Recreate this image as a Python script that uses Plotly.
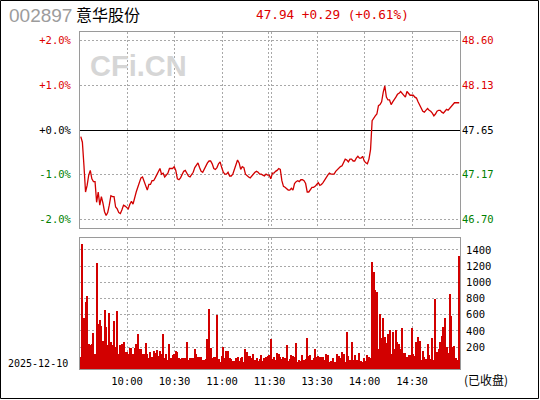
import plotly.graph_objects as go

# ---------------- data ----------------
CODE = "002897"
NAME = "意华股份"
DATE = "2025-12-10"
STATUS = "(已收盘)"
PREV_CLOSE = 47.65
LAST = 47.94
CHANGE = 0.29
CHANGE_PCT = 0.61

TIME_LABELS = ["10:00", "10:30", "11:00", "11:30", "13:30", "14:00", "14:30"]
TIME_MINUTES = [30, 60, 90, 120, 150, 180, 210]
PCT_TICKS = [2, 1, 0, -1, -2]
VOL_TICKS = [200, 400, 600, 800, 1000, 1200, 1400]

PRICE = [
    47.58, 47.52, 47.27, 46.99, 47.06, 47.17, 47.22, 47.13, 47.10, 47.10,
    46.88, 46.99, 46.85, 46.94, 46.87, 46.78, 46.74, 46.77, 46.85, 46.95,
    46.94, 46.94, 46.83, 46.81, 46.77, 46.76, 46.80, 46.85, 46.84, 46.82,
    46.81, 46.86, 46.89, 46.86, 46.94, 46.99, 47.04, 47.10, 47.14, 47.15,
    47.10, 47.06, 47.01, 47.07, 47.07, 47.11, 47.11, 47.14, 47.18, 47.22,
    47.24, 47.18, 47.19, 47.15, 47.17, 47.19, 47.24, 47.24, 47.24, 47.26,
    47.22, 47.13, 47.12, 47.14, 47.18, 47.21, 47.22, 47.18, 47.16, 47.15,
    47.17, 47.20, 47.25, 47.28, 47.30, 47.25, 47.21, 47.20, 47.24, 47.27,
    47.30, 47.32, 47.32, 47.29, 47.24, 47.23, 47.25, 47.29, 47.31, 47.25,
    47.20, 47.18, 47.18, 47.20, 47.16, 47.16, 47.18, 47.23, 47.27, 47.33,
    47.30, 47.23, 47.26, 47.25, 47.18, 47.16, 47.15, 47.14, 47.16, 47.19,
    47.20, 47.21, 47.20, 47.18, 47.18, 47.17, 47.16, 47.18, 47.17, 47.17,
    47.13, 47.19, 47.19, 47.21, 47.22, 47.24, 47.23, 47.11, 47.05, 47.04,
    47.02, 47.01, 47.01, 47.03, 47.01, 47.08, 47.10, 47.11, 47.10, 47.12,
    47.12, 47.11, 47.08, 46.99, 46.99, 47.02, 47.04, 47.04, 47.05, 47.07,
    47.09, 47.06, 47.07, 47.09, 47.12, 47.15, 47.17, 47.19, 47.18, 47.18,
    47.18, 47.21, 47.23, 47.24, 47.26, 47.27, 47.30, 47.34, 47.33, 47.31,
    47.34, 47.34, 47.32, 47.32, 47.35, 47.37, 47.35, 47.35, 47.37, 47.32,
    47.30, 47.29, 47.34, 47.44, 47.75, 47.78, 47.80, 47.82, 47.91, 47.92,
    47.95, 48.05, 48.12, 48.00, 47.97, 47.97, 47.92, 47.95, 47.97, 48.00,
    48.03, 48.04, 48.06, 48.04, 48.01, 48.00, 48.06, 48.04, 48.02, 48.02,
    48.02, 48.00, 47.99, 47.95, 47.92, 47.88, 47.85, 47.84, 47.86, 47.88,
    47.86, 47.85, 47.83, 47.80, 47.82, 47.85, 47.86, 47.86, 47.84, 47.83,
    47.85, 47.87, 47.86, 47.88, 47.90, 47.93, 47.94, 47.94, 47.94, 47.94,
]

VOLUME = [
    80, 1473, 561, 758, 828, 240, 220, 232, 372, 109,
    1239, 487, 536, 458, 277, 660, 450, 220, 619, 265,
    220, 520, 204, 647, 109, 220, 240, 265, 138, 138,
    109, 191, 183, 117, 191, 232, 356, 171, 179, 109,
    117, 249, 109, 68, 142, 80, 150, 130, 167, 88,
    150, 110, 364, 68, 109, 43, 240, 60, 101, 109,
    150, 142, 68, 47, 68, 60, 68, 265, 43, 68,
    68, 68, 179, 109, 80, 80, 80, 43, 43, 51,
    302, 672, 191, 68, 80, 80, 598, 47, 20, 93,
    204, 68, 154, 154, 68, 47, 31, 31, 60, 80,
    31, 68, 80, 10, 179, 142, 93, 93, 68, 117,
    43, 68, 31, 56, 105, 31, 68, 80, 93, 105,
    302, 56, 80, 43, 130, 117, 80, 56, 80, 60,
    228, 31, 56, 105, 93, 80, 253, 20, 43, 31,
    105, 43, 56, 314, 93, 105, 43, 68, 179, 80,
    93, 80, 80, 80, 43, 117, 105, 10, 31, 68,
    20, 15, 117, 93, 68, 142, 117, 20, 388, 93,
    40, 265, 40, 105, 43, 43, 130, 31, 20, 68,
    31, 105, 80, 60, 1252, 1128, 906, 882, 179, 610,
    314, 561, 327, 253, 364, 413, 117, 388, 179, 413,
    265, 240, 179, 438, 130, 130, 80, 105, 105, 438,
    117, 93, 265, 327, 278, 43, 154, 80, 56, 240,
    105, 56, 314, 43, 795, 142, 179, 265, 339, 450,
    561, 200, 120, 857, 586, 204, 216, 60, 40, 1326,
]

# ---------------- styles ----------------
W, H = 540, 400
ML, MR, MT, MB = 80, 80, 32, 31
PW, PH = W - ML - MR, H - MT - MB
RED = "#dd0000"
GREEN = "#008000"
LINE_RED = "#d20000"
GRID = "#a8a8a8"
FRAME = "#9a9a9a"
DASH = "2px,2px"
MONO = "DejaVu Sans Mono"
CJK = "Noto Sans CJK SC"
PCT_SPAN = 2.19
VOL_RANGE = [-72, 1548]
X_SHIFT = -0.25


def px_x(p):
    return (p - ML) / PW


def px_y(p):
    return (H - MB - p) / PH


x = list(range(len(PRICE)))
pct = [(p / PREV_CLOSE - 1) * 100 for p in PRICE]


def tick_color(v):
    return RED if v > 0 else (GREEN if v < 0 else "black")


pct_text = [f'<span style="color:{tick_color(v)}">{v:+.1f}%</span>' for v in PCT_TICKS]
price_tick_vals = [PREV_CLOSE * (1 + v / 100) for v in PCT_TICKS]
price_text = [f'<span style="color:{tick_color(v)}">{PREV_CLOSE * (1 + v / 100):.2f}</span>'
              for v in PCT_TICKS]

label_pos = [m + X_SHIFT - 0.5 for m in TIME_MINUTES]
grid_pos = []
for m in TIME_MINUTES:
    if m == 120:
        grid_pos += [m - 1.3, m + 0.2]
    else:
        grid_pos.append(m + X_SHIFT - 0.5)

fig = go.Figure()
fig.add_trace(go.Scatter(x=x, y=pct, xaxis="x2", yaxis="y", mode="lines",
                         line=dict(color=LINE_RED, width=1.3), hoverinfo="skip"))
fig.add_trace(go.Scatter(x=x, y=PRICE, xaxis="x2", yaxis="y3", mode="lines",
                         line=dict(color="rgba(0,0,0,0)", width=0), hoverinfo="skip"))
fig.add_trace(go.Bar(x=x, y=[v - VOL_RANGE[0] for v in VOLUME], base=VOL_RANGE[0],
                     xaxis="x", yaxis="y2", marker=dict(color=LINE_RED, line=dict(width=0)),
                     width=0.62, hoverinfo="skip"))

top_dom = [px_y(228), 1]
bot_dom = [0, px_y(238)]

minor = dict(tickvals=grid_pos, showgrid=True, gridcolor=GRID, griddash=DASH,
             gridwidth=1, ticks="")
xcommon = dict(range=[-0.5, len(PRICE) - 0.5], showgrid=False, zeroline=False,
               showline=True, mirror=True, linecolor=FRAME, linewidth=1, ticks="",
               minor=minor, automargin=False)

fig.update_layout(
    width=W, height=H,
    margin=dict(l=ML, r=MR, t=MT, b=MB, pad=0, autoexpand=False),
    paper_bgcolor="white", plot_bgcolor="white",
    showlegend=False, bargap=0,
    font=dict(family=MONO, size=10, color="black"),
    xaxis=dict(anchor="y2", tickvals=label_pos, ticktext=TIME_LABELS,
               tickfont=dict(family=MONO, size=10.5, color="black"),
               ticklabelstandoff=2, **xcommon),
    xaxis2=dict(anchor="y", matches="x", showticklabels=False, **xcommon),
    yaxis=dict(domain=top_dom, anchor="x2", range=[-PCT_SPAN, PCT_SPAN],
               tickvals=PCT_TICKS, ticktext=pct_text, ticks="",
               tickfont=dict(family=MONO, size=10.5),
               showgrid=True, gridcolor=GRID, griddash=DASH, gridwidth=1,
               zeroline=True, zerolinecolor="black", zerolinewidth=1.3,
               showline=True, mirror=True, linecolor=FRAME, linewidth=1,
               ticklabelstandoff=6, automargin=False),
    yaxis3=dict(overlaying="y", anchor="x2", side="right",
                range=[PREV_CLOSE * (1 - PCT_SPAN / 100), PREV_CLOSE * (1 + PCT_SPAN / 100)],
                tickvals=price_tick_vals, ticktext=price_text, ticks="",
                tickfont=dict(family=MONO, size=10.5),
                showgrid=False, zeroline=False, showline=False,
                ticklabelstandoff=1, automargin=False),
    yaxis2=dict(domain=bot_dom, anchor="x", side="right", range=VOL_RANGE,
                tickvals=VOL_TICKS, ticks="",
                tickfont=dict(family=MONO, size=10.5, color="black"),
                showgrid=True, gridcolor=GRID, griddash=DASH, gridwidth=1,
                zeroline=False, showline=True, mirror=True, linecolor=FRAME,
                linewidth=1, ticklabelstandoff=3, automargin=False),
)

annotations = [
    dict(text=CODE, x=px_x(7), y=px_y(16), xanchor="left", yanchor="middle",
         font=dict(family="Liberation Sans", size=19, color="#9c9c9c")),
    dict(text=NAME, x=px_x(74), y=px_y(13.5), xanchor="left", yanchor="middle",
         font=dict(family=CJK, size=16, color="black")),
    dict(text=f"{LAST:.2f} {CHANGE:+.2f} ({CHANGE_PCT:+.2f}%)", x=px_x(254), y=px_y(14.5),
         xanchor="left", yanchor="middle",
         font=dict(family=MONO, size=12.7, color=RED)),
    dict(text="<b>CFi.CN</b>", x=px_x(88), y=px_y(65.5), xanchor="left", yanchor="middle",
         font=dict(family="Liberation Sans", size=29, color="#d6d6d6")),
    dict(text=DATE, x=px_x(6), y=px_y(363), xanchor="left", yanchor="middle",
         font=dict(family=MONO, size=10, color="black")),
    dict(text=STATUS, x=px_x(462), y=px_y(379.5), xanchor="left", yanchor="middle",
         font=dict(family=CJK, size=12, color="black")),
]
for a in annotations:
    a.update(xref="paper", yref="paper", showarrow=False)
fig.update_layout(annotations=annotations)

fig.add_shape(type="rect", xref="paper", yref="paper",
              x0=px_x(0.5), x1=px_x(538.5), y0=px_y(398.5), y1=px_y(0.5),
              line=dict(color="black", width=1), fillcolor="rgba(0,0,0,0)", layer="above")

fig.write_html("out.html",
               config={"displayModeBar": False},
               post_script="document.body.style.margin='0';document.body.style.overflow='hidden';")
